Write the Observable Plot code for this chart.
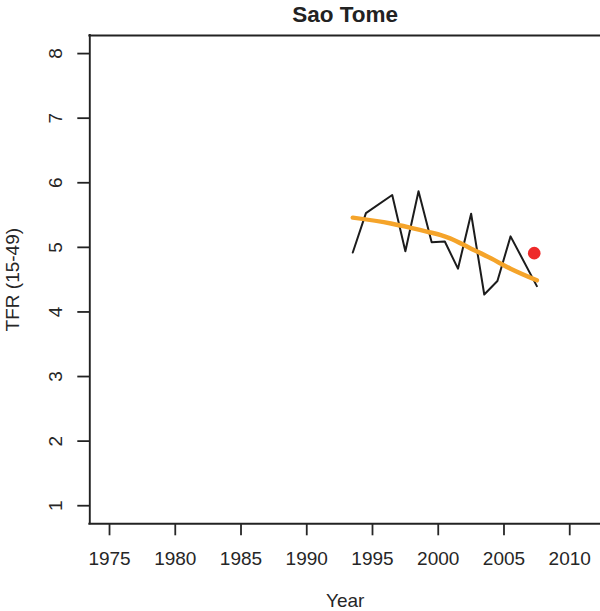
<!DOCTYPE html>
<html>
<head>
<meta charset="utf-8">
<script src="https://cdn.jsdelivr.net/npm/d3@7"></script>
<script src="https://cdn.jsdelivr.net/npm/@observablehq/plot@0.6"></script>
<style>
  html, body { margin: 0; padding: 0; background: #fff; }
  svg { display: block; }
</style>
</head>
<body>
<div id="chart"></div>
<script>
// ---- data ----
const chartTitle = "Sao Tome";
const xTitle = "Year";
const yTitle = "TFR (15-49)";

const obsYears  = [1993.5, 1994.5, 1996.5, 1997.5, 1998.5, 1999.5, 2000.5, 2001.5, 2002.5, 2003.5, 2004.5, 2005.5, 2007.5];
const obsValues = [4.92, 5.53, 5.81, 4.94, 5.87, 5.08, 5.09, 4.67, 5.52, 4.27, 4.48, 5.17, 4.40];

const trendYears  = [1993.5, 1996.4, 1998.6, 1999.4, 2000.2, 2000.9, 2002.5, 2004.0, 2005.5, 2007.5];
const trendValues = [5.46, 5.37, 5.27, 5.23, 5.19, 5.14, 4.98, 4.83, 4.67, 4.49];

const pointYears  = [2007.3];
const pointValues = [4.91];

const xTicks = [1975, 1980, 1985, 1990, 1995, 2000, 2005, 2010];
const yTicks = [1, 2, 3, 4, 5, 6, 7, 8];

const xDomain = [1973.5, 2012.34];
const yDomain = [0.72, 8.28];

// ---- tables for the library ----
const obs = obsYears.map((y, i) => ({year: y, tfr: obsValues[i]}));
const trend = trendYears.map((y, i) => ({year: y, tfr: trendValues[i]}));
const pts = pointYears.map((y, i) => ({year: y, tfr: pointValues[i]}));

const ink = "#222";
const txt = "#262626";
const font = "'Liberation Sans', Arial, Helvetica, sans-serif";

const chart = Plot.plot({
  width: 600,
  height: 611,
  marginLeft: 89.3,
  marginRight: 0,
  marginTop: 35,
  marginBottom: 87.7,
  style: {fontFamily: font, fontSize: "19px", background: "#fff", color: txt},
  x: {domain: xDomain},
  y: {domain: yDomain},
  marks: [
    // box (right side lies beyond the picture)
    Plot.ruleX([xDomain[0]], {stroke: ink, strokeWidth: 1.9, strokeLinecap: "square"}),
    Plot.ruleY(yDomain, {stroke: ink, strokeWidth: 1.9, strokeLinecap: "square"}),
    // axes
    Plot.axisX({ticks: xTicks, tickSize: 12, tickPadding: 16, tickFormat: d => String(d),
                label: null, color: txt, strokeWidth: 1.8, fontSize: 19}),
    Plot.axisY({ticks: yTicks, tickSize: 12, tickFormat: () => "", label: null,
                color: ink, strokeWidth: 1.8}),
    Plot.text(yTicks, {y: d => d, text: d => String(d), frameAnchor: "left", textAnchor: "middle",
                       lineAnchor: "middle", dx: -33.5, rotate: -90, fill: txt, fontSize: 19}),
    // titles
    Plot.text([chartTitle], {frameAnchor: "top", textAnchor: "middle", lineAnchor: "bottom", dy: -13.3,
                             fontSize: 22.5, fontWeight: "bold", fill: ink}),
    Plot.text([xTitle], {frameAnchor: "bottom", textAnchor: "middle", lineAnchor: "bottom", dy: 83,
                         fontSize: 19, fill: txt}),
    Plot.text([yTitle], {frameAnchor: "left", textAnchor: "middle", lineAnchor: "middle", dx: -76.8, rotate: -90,
                         fontSize: 19, fill: txt}),
    // data
    Plot.line(obs, {x: "year", y: "tfr", stroke: "#1c1c1c", strokeWidth: 2}),
    Plot.line(trend, {x: "year", y: "tfr", stroke: "#F5A42A", strokeWidth: 4.5, curve: "monotone-x"}),
    Plot.dot(pts, {x: "year", y: "tfr", r: 6.3, fill: "#EE2A2A", stroke: "none"})
  ]
});
document.getElementById("chart").appendChild(chart);
</script>
</body>
</html>
